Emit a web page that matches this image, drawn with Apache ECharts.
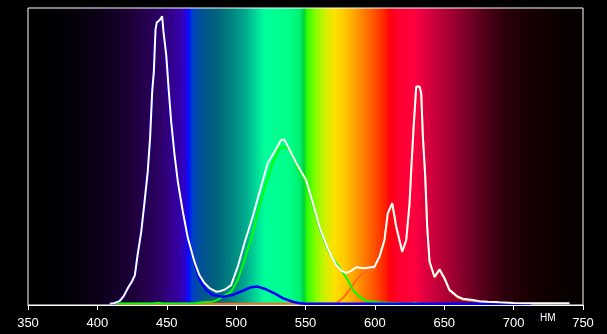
<!DOCTYPE html>
<html>
<head>
<meta charset="utf-8">
<script src="https://cdn.jsdelivr.net/npm/echarts@6/dist/echarts.min.js"></script>
<style>html,body{margin:0;padding:0;background:#000;}#c{width:607px;height:334px;}</style>
</head>
<body>
<div id="c"></div>
<script>
var xTicks = [350, 400, 450, 500, 550, 600, 650, 700, 750];
var unitLabel = "НМ";

var whiteCurve = [[409,0.004],[412,0.006],[416,0.013],[419,0.03],[422,0.057],[425,0.08],[427,0.10],[429,0.169],[431.6,0.246],[434,0.347],[436.3,0.449],[438,0.563],[439.5,0.718],[440.7,0.786],[441.9,0.927],[442.8,0.951],[445,0.96],[446.7,0.972],[447.6,0.922],[449.6,0.843],[451.3,0.732],[453.2,0.617],[455.6,0.506],[458,0.415],[461.6,0.314],[465.2,0.226],[470,0.145],[473.6,0.10],[477,0.075],[480.8,0.057],[485.6,0.045],[488,0.046],[492,0.052],[496.4,0.067],[501.2,0.129],[506,0.209],[512,0.298],[518,0.399],[522.8,0.478],[527.7,0.517],[532.5,0.556],[534.9,0.556],[538.5,0.523],[543.3,0.478],[550.5,0.42],[555.3,0.343],[560,0.264],[566,0.191],[572,0.135],[576,0.115],[579.3,0.108],[583,0.115],[586.5,0.127],[592.5,0.124],[599.7,0.129],[603.3,0.163],[606.9,0.219],[609.3,0.309],[612.5,0.343],[615.4,0.264],[619.7,0.180],[622.6,0.219],[625,0.343],[626.2,0.455],[627.8,0.590],[629.8,0.736],[632.2,0.736],[633.4,0.714],[634.6,0.568],[636.3,0.433],[637.7,0.264],[639.4,0.146],[643,0.095],[646.6,0.120],[650.2,0.09],[653.8,0.051],[659.8,0.028],[663.4,0.021],[670.6,0.017],[675.4,0.013],[681.4,0.011],[689.8,0.009],[700,0.007],[713.6,0.006],[740.3,0.006]];

var greenCurve = [[413,0.005],[440,0.005],[444,0.008],[447,0.005],[470,0.006],[476,0.009],[483,0.011],[487,0.018],[490.4,0.028],[496.4,0.045],[501.2,0.084],[506,0.152],[512,0.242],[516.8,0.332],[521.6,0.41],[526.4,0.478],[531.3,0.528],[534.9,0.532],[537.2,0.528],[540,0.51],[543.3,0.47],[550.5,0.41],[555.3,0.335],[560,0.258],[566,0.186],[572,0.142],[575.7,0.118],[580.5,0.084],[584.1,0.051],[588.9,0.028],[593.7,0.013],[603.3,0.009],[612.9,0.007],[620,0.005],[627,0.005],[629,0.008],[632,0.005],[640,0.004]];

var blueCurve = [[409,0.004],[412,0.006],[416,0.013],[419,0.03],[422,0.057],[425,0.08],[427,0.10],[429,0.169],[431.6,0.246],[434,0.347],[436.3,0.449],[438,0.563],[439.5,0.718],[440.7,0.786],[441.9,0.927],[442.8,0.951],[445,0.96],[446.7,0.972],[447.6,0.922],[449.6,0.843],[451.3,0.732],[453.2,0.617],[455.6,0.506],[458,0.415],[461.6,0.314],[465.2,0.226],[470,0.14],[473.6,0.085],[478.4,0.051],[483.2,0.034],[490.4,0.028],[497.6,0.034],[504.8,0.048],[510.8,0.060],[515.6,0.062],[521.6,0.053],[527.7,0.039],[533.6,0.023],[540.8,0.011],[545.7,0.006],[550,0.004],[712.7,0.004]];

var redCurve = [[413,0.004],[440,0.004],[444,0.006],[447,0.004],[570,0.004],[572,0.005],[578,0.028],[581.7,0.051],[586.5,0.084],[591.3,0.107],[598.5,0.118],[601,0.14],[603.3,0.16],[606.9,0.216],[609.3,0.306],[612.5,0.34],[615.4,0.26],[619.7,0.177],[622.6,0.216],[625,0.34],[626.2,0.452],[627.8,0.587],[629.8,0.733],[632.2,0.733],[633.4,0.711],[634.6,0.565],[636.3,0.43],[637.7,0.26],[639.4,0.143],[643,0.092],[646.6,0.117],[650.2,0.087],[653.8,0.048],[659.8,0.025],[663.4,0.018],[670.6,0.014],[675.4,0.01],[681,0.008],[690,0.005]];

var spectrumStops = [
  [0,'#000000'],[0.058,'#010003'],[0.13,'#0c0018'],[0.184,'#1c0035'],[0.238,'#2c0065'],
  [0.274,'#3600a8'],[0.285,'#2a00d8'],[0.29,'#0010ff'],[0.297,'#0040c8'],[0.31,'#005098'],
  [0.337,'#00607a'],[0.364,'#008080'],[0.391,'#00a88c'],[0.414,'#00e09a'],[0.427,'#00ff98'],
  [0.472,'#00ff88'],[0.49,'#00f070'],[0.497,'#00d040'],[0.503,'#30ff00'],[0.517,'#80ff00'],
  [0.535,'#d0f000'],[0.553,'#ffe000'],[0.571,'#ffc800'],[0.589,'#ffa000'],[0.607,'#ff7800'],
  [0.625,'#ff5000'],[0.643,'#ff2000'],[0.652,'#ff0010'],[0.667,'#ff0030'],[0.697,'#ff0040'],
  [0.715,'#e00040'],[0.751,'#b00035'],[0.787,'#80002a'],[0.823,'#500018'],[0.859,'#2c000a'],
  [0.904,'#160002'],[0.958,'#0a0000'],[1,'#040000']
];

var chart = echarts.init(document.getElementById('c'), null, {renderer:'canvas'});
var grad = new echarts.graphic.LinearGradient(0,0,1,0, spectrumStops.map(function(s){return {offset:s[0], color:s[1]};}));

function lineSeries(data, color, w){
  return {type:'line', data:data, showSymbol:false, smooth:false, animation:false,
    lineStyle:{color:color, width:w}, itemStyle:{color:color}, z:2};
}

chart.setOption({
  backgroundColor:'#000',
  animation:false,
  grid:{left:28, right:24, top:8, bottom:29, show:true, backgroundColor:grad, borderColor:'#ffffff', borderWidth:1},
  xAxis:{type:'value', min:xTicks[0], max:xTicks[xTicks.length-1], interval:50,
    axisLine:{show:true, lineStyle:{color:'#fff', width:1}},
    axisTick:{show:true, length:5, lineStyle:{color:'#fff'}},
    axisLabel:{color:'#fff', fontSize:13, fontFamily:'Liberation Sans', margin:12},
    splitLine:{show:false}},
  yAxis:{type:'value', min:0, max:1, show:false, splitLine:{show:false}},
  graphic:[{type:'text', left:540, top:313, style:{text:unitLabel, fill:'#fff', fontSize:10, fontFamily:'Liberation Sans'}}],
  series:[
    lineSeries(redCurve, '#ff6a1a', 2),
    lineSeries(greenCurve, '#00ff00', 2),
    lineSeries(blueCurve, '#0000ff', 2.5),
    lineSeries(whiteCurve, '#ffffff', 2)
  ]
});
</script>
</body>
</html>
